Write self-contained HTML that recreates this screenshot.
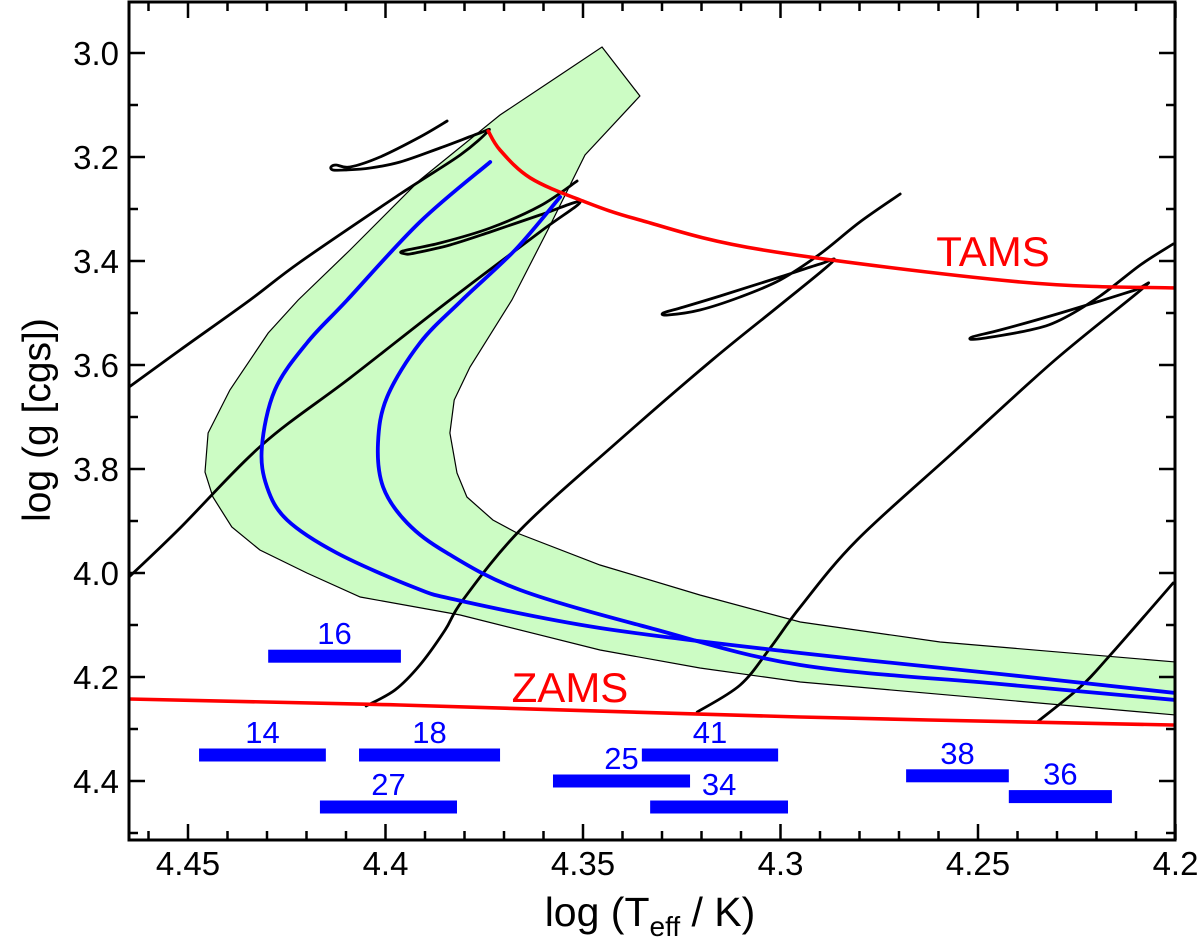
<!DOCTYPE html>
<html><head><meta charset="utf-8"><style>
html,body{margin:0;padding:0;background:#fff;}
svg{display:block;font-family:"Liberation Sans",Arial,sans-serif;}
</style></head><body>
<svg id="chart" width="1200" height="940" viewBox="0 0 1200 940" xmlns="http://www.w3.org/2000/svg">
<defs><clipPath id="plotclip"><rect x="129" y="2" width="1046" height="838"/></clipPath></defs>
<g id="plot" clip-path="url(#plotclip)"></g>
<g id="axes"></g>
</svg>
<script>
// ---- data ----
const xTicksMajor = [4.45, 4.4, 4.35, 4.3, 4.25, 4.2];
const xTickLabels = ["4.45", "4.4", "4.35", "4.3", "4.25", "4.2"];
const yTicksMajor = [3.0, 3.2, 3.4, 3.6, 3.8, 4.0, 4.2, 4.4];
const yTickLabels = ["3.0", "3.2", "3.4", "3.6", "3.8", "4.0", "4.2", "4.4"];

const bandT = [4.3452,4.3356,4.3495,4.3589,4.368,4.3786,4.3826,4.3837,4.3819,4.3794,4.3728,4.3667,4.3457,4.3204,4.295,4.2596,4.2,4.2,4.295,4.3204,4.3457,4.3811,4.4064,4.4199,4.4318,4.4389,4.4437,4.4457,4.4449,4.4394,4.4297,4.4221,4.409,4.3913,4.371,4.3558];
const bandG = [2.9885,3.0827,3.1962,3.3404,3.475,3.6038,3.6673,3.7308,3.8077,3.8538,3.8981,3.9231,3.9846,4.0423,4.0942,4.1327,4.1712,4.2731,4.2096,4.1827,4.1481,4.0808,4.0462,4.0,3.9558,3.9115,3.8538,3.8058,3.7308,3.6481,3.5385,3.475,3.3788,3.2442,3.1192,3.0423];

const blue1T = [4.3735,4.3913,4.4097,4.4199,4.428,4.4313,4.43,4.4249,4.4123,4.393,4.3819,4.3457,4.295,4.2444,4.2];
const blue1G = [3.2096,3.325,3.475,3.5577,3.6481,3.7577,3.8346,3.8981,3.9615,4.0269,4.0519,4.1058,4.1538,4.1942,4.2308];
const blue2T = [4.3558,4.3672,4.3806,4.3913,4.3996,4.4019,4.4006,4.3945,4.3844,4.3659,4.333,4.295,4.2444,4.2];
const blue2G = [3.2769,3.3788,3.475,3.5577,3.6615,3.75,3.8346,3.9038,3.9615,4.0327,4.1058,4.1769,4.2135,4.2442];

const track1T = [4.4649,4.452,4.4343,4.4216,4.3963,4.3811,4.374,4.3761,4.3862,4.3963,4.4039,4.4102,4.4133,4.4138,4.4125,4.409,4.4014,4.3913,4.3844];
const track1G = [3.6423,3.5712,3.475,3.4019,3.2712,3.1962,3.15,3.1538,3.1827,3.2096,3.2212,3.225,3.225,3.2192,3.2154,3.2192,3.2,3.1615,3.1308];
const track2T = [4.4649,4.452,4.4313,4.409,4.3837,4.3609,4.3507,4.3609,4.3735,4.3837,4.3925,4.3948,4.3956,4.3862,4.3735,4.3609,4.3515];
const track2G = [4.0077,3.9135,3.7538,3.625,3.475,3.3442,3.2865,3.3115,3.3442,3.3692,3.3846,3.3865,3.3808,3.3654,3.3365,3.2942,3.2462];
const track3T = [4.4049,4.3976,4.3913,4.3849,4.3804,4.3659,4.3416,4.3173,4.3001,4.2869,4.29,4.3001,4.3153,4.3254,4.3297,4.3285,4.3204,4.3102,4.3001,4.29,4.2799,4.2697];
const track3G = [4.2558,4.225,4.1769,4.1096,4.0519,3.9173,3.75,3.5904,3.4846,3.4019,3.4058,3.4308,3.4673,3.4904,3.5,3.5038,3.4942,3.4692,3.4365,3.3865,3.325,3.2712];
const track4T = [4.3211,4.3102,4.3026,4.295,4.2806,4.2556,4.2305,4.2082,4.2102,4.2191,4.2317,4.2444,4.2515,4.25,4.2368,4.2292,4.2191,4.2089,4.2006];
const track4G = [4.2673,4.2154,4.1442,4.0654,3.9365,3.7635,3.5904,3.4519,3.4558,3.4769,3.5058,3.5327,3.5462,3.55,3.5327,3.5135,3.4673,3.4077,3.3673];
const track5T = [4.235,4.2241,4.2165,4.2006];
const track5G = [4.2865,4.2192,4.1577,4.0192];

const zamsT = [4.4649,4.3963,4.295,4.2006];
const zamsG = [4.2423,4.2538,4.2769,4.2923];
const tamsT = [4.374,4.371,4.3634,4.3507,4.3356,4.3044,4.2393,4.2];
const tamsG = [3.15,3.1865,3.24,3.2827,3.3212,3.3788,3.4404,3.4519];

const starLabels = ["16","14","18","27","25","41","34","38","36"];
const starTmin = [4.3961,4.4151,4.371,4.3819,4.3229,4.3006,4.2981,4.2422,4.2161];
const starTmax = [4.4297,4.4472,4.4067,4.4166,4.3576,4.3351,4.333,4.2682,4.2422];
const starG = [4.16,4.35,4.35,4.45,4.40,4.35,4.45,4.39,4.43];

// ---- scales ----
const X0 = 188, XPX = 3950;
function sx(t){ return X0 + (4.45 - t) * XPX; }
function sy(g){ return 53 + (g - 3.0) * 520; }
const NS = "http://www.w3.org/2000/svg";
const plot = document.getElementById('plot');
const axes = document.getElementById('axes');
function mk(tag, attrs, parent){
  const e = document.createElementNS(NS, tag);
  for (const k in attrs) e.setAttribute(k, attrs[k]);
  parent.appendChild(e); return e;
}
function pts(T, G){ return T.map((t,i)=>sx(t).toFixed(1)+','+sy(G[i]).toFixed(1)).join(' '); }
function smoothPath(T, G){
  const P = T.map((t,i)=>[sx(t), sy(G[i])]);
  let d = 'M' + P[0][0].toFixed(1) + ',' + P[0][1].toFixed(1);
  for (let i = 0; i < P.length-1; i++){
    const p0 = P[Math.max(i-1,0)], p1 = P[i], p2 = P[i+1], p3 = P[Math.min(i+2,P.length-1)];
    const c1 = [p1[0]+(p2[0]-p0[0])/6, p1[1]+(p2[1]-p0[1])/6];
    const c2 = [p2[0]-(p3[0]-p1[0])/6, p2[1]-(p3[1]-p1[1])/6];
    d += ' C' + c1[0].toFixed(1)+','+c1[1].toFixed(1)+' '+c2[0].toFixed(1)+','+c2[1].toFixed(1)+' '+p2[0].toFixed(1)+','+p2[1].toFixed(1);
  }
  return d;
}

// band
const band = mk('polygon', {points: pts(bandT, bandG), fill:'#ccfcc4', stroke:'#000', 'stroke-width':1.2}, plot);



function line(T, G, color, w, name){
  const p = mk('path', {d: smoothPath(T, G), fill:'none', stroke:color, 'stroke-width':w, 'stroke-linejoin':'round', 'stroke-linecap':'round'}, plot);
  
  
}
line(track1T, track1G, '#000', 2.8, 'track-1');
line(track2T, track2G, '#000', 2.8, 'track-2');
line(track3T, track3G, '#000', 2.8, 'track-3');
line(track4T, track4G, '#000', 2.8, 'track-4');
line(track5T, track5G, '#000', 2.8, 'track-5');
line(blue1T, blue1G, '#0000ff', 3.8, 'isochrone-1');
line(blue2T, blue2G, '#0000ff', 3.8, 'isochrone-2');
line(zamsT, zamsG, '#ff0000', 3.6, 'zams-line');
line(tamsT, tamsG, '#ff0000', 3.6, 'tams-line');

// labels ZAMS / TAMS
const tl = mk('text', {x:993, y:266, 'font-size':42, fill:'#ff0000', 'text-anchor':'middle'}, plot);
tl.textContent = 'TAMS';


const zl = mk('text', {x:570, y:702, 'font-size':42, fill:'#ff0000', 'text-anchor':'middle'}, plot);
zl.textContent = 'ZAMS';



// star bars
starLabels.forEach((lab, i) => {
  const x1 = sx(starTmax[i]), x2 = sx(starTmin[i]), y = sy(starG[i]);
  const r = mk('rect', {x:x1, y:y-6.5, width:x2-x1, height:13, fill:'#0000ff'}, plot);
  
  
  const t = mk('text', {x:(x1+x2)/2, y:y-12, 'font-size':31, fill:'#0000ff', 'text-anchor':'middle'}, plot);
  t.textContent = lab;
  
  
});

// frame
const fr = mk('rect', {x:129, y:2, width:1046, height:838, fill:'none', stroke:'#000', 'stroke-width':3}, axes);



// x ticks
for (let k = 0; k <= 26; k++){
  const t = 4.46 - k*0.01;
  const x = sx(t);
  if (x < 129 || x > 1176) continue;
  const major = Math.abs(Math.round(t*100) % 5) === 0;
  const L = major ? 16 : 9;
  mk('line', {x1:x, y1:840, x2:x, y2:840-L, stroke:'#000', 'stroke-width':2.5}, axes);
  mk('line', {x1:x, y1:2, x2:x, y2:2+L, stroke:'#000', 'stroke-width':2.5}, axes);
}
xTicksMajor.forEach((t,i) => {
  const e = mk('text', {x:sx(t), y:875, 'font-size':33, 'text-anchor':'middle', fill:'#000'}, axes);
  e.textContent = xTickLabels[i];
  
  
});
// y ticks
for (let k = 0; k <= 16; k++){
  const g = 2.9 + k*0.1;
  const y = sy(g);
  if (y < 2 || y > 840) continue;
  const major = Math.round(g*10) % 2 === 0;
  const L = major ? 16 : 9;
  mk('line', {x1:129, y1:y, x2:129+L, y2:y, stroke:'#000', 'stroke-width':2.5}, axes);
  mk('line', {x1:1175, y1:y, x2:1175-L, y2:y, stroke:'#000', 'stroke-width':2.5}, axes);
}
yTicksMajor.forEach((g,i) => {
  const e = mk('text', {x:119, y:sy(g)+12, 'font-size':33, 'text-anchor':'end', fill:'#000'}, axes);
  e.textContent = yTickLabels[i];
  
  
});
</script>
<svg style="position:absolute;left:0;top:0" width="1200" height="940" xmlns="http://www.w3.org/2000/svg" font-family="Liberation Sans, Arial, sans-serif">
<text x="650" y="926" font-size="41" text-anchor="middle">log (T<tspan font-size="28" dy="10">eff</tspan><tspan dy="-10"> / K)</tspan></text>
<text transform="translate(50,420) rotate(-90)" font-size="39" text-anchor="middle">log (g [cgs])</text>
</svg>
</body></html>
